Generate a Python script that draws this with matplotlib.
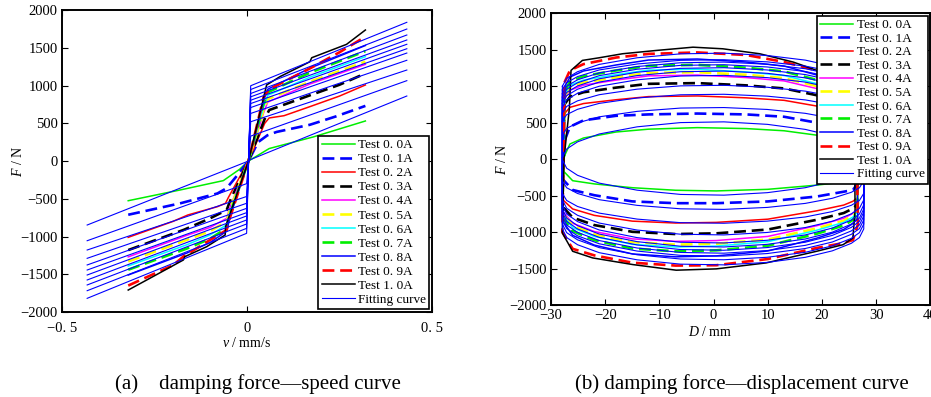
import numpy as np
from matplotlib import pyplot as plt

plt.rcParams['font.family'] = 'serif'
plt.rcParams['font.serif'] = ['Liberation Serif', 'DejaVu Serif']
plt.rcParams['mathtext.fontset'] = 'custom'
plt.rcParams['mathtext.it'] = 'Liberation Serif:italic'
plt.rcParams['mathtext.rm'] = 'Liberation Serif'

#--------------------------------
# DATA
#--------------------------------
currents = ['0. 0', '0. 1', '0. 2', '0. 3', '0. 4', '0. 5', '0. 6', '0. 7', '0. 8', '0. 9', '1. 0']
colors = ['#00ee00', '#0000ff', '#ff0000', '#000000', '#ff00ff', '#ffff00',
          '#00ffff', '#00ee00', '#0000ff', '#ff0000', '#000000']
dashed = [False, True, False, True, False, True, False, True, False, True, False]

# (a) force - speed, test curves (v in mm/s, F in N)
speed_v = [
    [-0.321, -0.181, -0.064, -0.02, 0.004, 0.06, 0.18, 0.32],
    [-0.321, -0.18, -0.08, -0.055, -0.028, 0.004, 0.03, 0.055, 0.08, 0.17, 0.24, 0.32],
    [-0.321, -0.2, -0.16, -0.08, -0.058, -0.05, 0.004, 0.048, 0.06, 0.1, 0.17, 0.25, 0.32],
    [-0.321, -0.17, -0.1, -0.055, -0.045, 0.004, 0.048, 0.06, 0.17, 0.25, 0.32],
    [-0.321, -0.163, -0.1, -0.055, -0.045, 0.004, 0.045, 0.056, 0.17, 0.32],
    [-0.321, -0.163, -0.1, -0.055, -0.045, 0.004, 0.045, 0.056, 0.17, 0.32],
    [-0.321, -0.163, -0.1, -0.055, -0.045, 0.004, 0.045, 0.056, 0.17, 0.32],
    [-0.321, -0.163, -0.1, -0.055, -0.045, 0.004, 0.045, 0.056, 0.17, 0.32],
    [-0.321, -0.163, -0.1, -0.055, -0.045, 0.004, 0.045, 0.056, 0.17, 0.32],
    [-0.321, -0.2, -0.172, -0.1, -0.055, -0.048, 0.004, 0.045, 0.06, 0.17, 0.25, 0.32],
    [-0.321, -0.25, -0.172, -0.168, -0.109, -0.059, -0.058, 0.004, 0.053, 0.089, 0.17, 0.175, 0.269, 0.32],
]
speed_F = [
    [-526, -384, -260, -110, 0, 165, 320, 530],
    [-712, -560, -430, -360, -200, 0, 250, 340, 385, 480, 590, 730],
    [-1011, -800, -715, -605, -560, -480, 0, 500, 570, 600, 720, 860, 1007],
    [-1180, -910, -760, -650, -520, 0, 560, 675, 870, 1010, 1160],
    [-1270, -985, -880, -760, -600, 0, 640, 780, 1020, 1280],
    [-1330, -1045, -930, -800, -630, 0, 680, 820, 1050, 1315],
    [-1390, -1110, -980, -845, -660, 0, 720, 870, 1110, 1382],
    [-1440, -1160, -1030, -890, -690, 0, 760, 910, 1170, 1455],
    [-1510, -1220, -1080, -930, -720, 0, 800, 950, 1230, 1530],
    [-1650, -1380, -1267, -1046, -914, -780, 0, 850, 950, 1226, 1440, 1647],
    [-1709, -1520, -1311, -1267, -1135, -980, -870, 0, 1007, 1117, 1315, 1368, 1545, 1735],
]

# (a) fitting curves: end values at v = -0.432 / +0.432 and values next to v = 0
fit_v = [-0.432, -0.001, 0.01, 0.432]
fit_end_neg = [-848, -1056, -1179, -1289, -1377, -1444, -1510, -1576, -1642, -1718, -1819]
fit_start_neg = [-10, -300, -470, -560, -627, -684, -728, -781, -834, -892, -958]
fit_start_pos = [20, 330, 520, 630, 708, 761, 805, 850, 894, 947, 997]
fit_end_pos = [861, 1064, 1205, 1334, 1430, 1487, 1546, 1603, 1669, 1748, 1837]

# (b) force - displacement, test loops (D in mm)
loop_up_D = [-27.5, -26.5, -24, -18, -12, -3, 6, 13, 19, 23.5, 26.3]
loop_lo_D = [26.6, 25.7, 24, 19, 10, 0.5, -7, -15, -22, -26, -27.9]
loop_up_F = [
    [43, 206, 288, 370, 409, 430, 417, 387, 327, 275, 241],
    [249, 442, 530, 592, 611, 623, 611, 579, 498, 436, 386],
    [622, 708, 760, 812, 855, 864, 838, 804, 726, 648, 588],
    [749, 853, 915, 978, 1030, 1040, 1009, 967, 874, 780, 707],
    [828, 943, 1012, 1081, 1139, 1150, 1116, 1070, 966, 863, 782],
    [857, 976, 1047, 1119, 1178, 1190, 1154, 1107, 1000, 893, 809],
    [886, 1009, 1082, 1156, 1218, 1230, 1193, 1144, 1033, 923, 836],
    [929, 1058, 1135, 1213, 1277, 1290, 1251, 1200, 1084, 968, 877],
    [986, 1123, 1206, 1288, 1356, 1370, 1329, 1274, 1151, 1028, 932],
    [1050, 1214, 1300, 1390, 1440, 1460, 1425, 1330, 1214, 1120, 1060],
]
loop_lo_F = [
    [-271, -297, -315, -358, -415, -437, -428, -393, -341, -297, -149],
    [-333, -424, -448, -514, -581, -605, -605, -581, -496, -424, -272],
    [-526, -579, -631, -710, -824, -868, -877, -851, -772, -684, -553],
    [-617, -678, -740, -833, -966, -1018, -1028, -997, -905, -802, -648],
    [-677, -744, -812, -914, -1060, -1117, -1128, -1094, -993, -880, -711],
    [-704, -774, -845, -950, -1103, -1161, -1173, -1138, -1032, -915, -739],
    [-723, -795, -868, -976, -1133, -1193, -1205, -1169, -1060, -940, -759],
    [-758, -834, -910, -1024, -1188, -1251, -1264, -1226, -1112, -986, -796],
    [-804, -884, -965, -1085, -1260, -1327, -1340, -1300, -1179, -1045, -844],
    [-900, -1110, -1150, -1219, -1370, -1455, -1460, -1420, -1320, -1230, -1000],
]
# the 1.0 A loop has its own stations
loop10_up_D = [-27.8, -27.6, -26.6, -26.3, -24.2, -21.1, -16.8, -10.6, -3.8, 1.7, 8.5, 14.7, 19.9, 23.5, 25.9]
loop10_up_F = [-700, 0, 700, 1214, 1351, 1387, 1442, 1487, 1532, 1510, 1442, 1328, 1191, 1100, 1020]
loop10_lo_D = [26.1, 25.7, 23.9, 19, 9.7, 0.5, -6.9, -14.9, -22.3, -26, -27.9]
loop10_lo_F = [-700, -1082, -1173, -1264, -1423, -1505, -1523, -1446, -1355, -1264, -1014]

# (b) fitting loops
fit_loop_D = [-27.9, -27.1, -25.1, -21.1, -14.1, -6.1, 1.9, 9.9, 16.9, 21.9, 25.4, 26.9, 27.7]
fit_loop_up = [
    [20, 137, 235, 343, 441, 499, 509, 475, 406, 318, 216, 137, 20],
    [330, 420, 495, 578, 653, 698, 705, 679, 626, 559, 480, 420, 330],
    [520, 608, 681, 762, 836, 880, 887, 861, 810, 744, 667, 608, 520],
    [630, 721, 797, 881, 957, 1002, 1010, 983, 930, 862, 782, 721, 630],
    [708, 813, 901, 997, 1085, 1137, 1146, 1115, 1054, 975, 883, 813, 708],
    [761, 868, 956, 1054, 1143, 1196, 1205, 1174, 1112, 1032, 939, 868, 761],
    [805, 912, 1001, 1099, 1189, 1242, 1251, 1220, 1157, 1077, 983, 912, 805],
    [850, 956, 1044, 1142, 1230, 1283, 1292, 1261, 1199, 1120, 1027, 956, 850],
    [894, 998, 1085, 1180, 1267, 1319, 1328, 1298, 1237, 1159, 1068, 998, 894],
    [947, 1046, 1129, 1220, 1302, 1352, 1360, 1331, 1273, 1199, 1112, 1046, 947],
    [997, 1106, 1196, 1296, 1387, 1441, 1450, 1418, 1355, 1273, 1178, 1106, 997],
]
fit_loop_lo = [
    [-10, -126, -223, -330, -427, -485, -495, -461, -393, -306, -204, -126, -10],
    [-300, -394, -472, -557, -635, -682, -690, -663, -608, -538, -456, -394, -300],
    [-470, -568, -650, -741, -823, -872, -880, -851, -794, -720, -634, -568, -470],
    [-560, -675, -771, -877, -973, -1030, -1040, -1006, -939, -853, -752, -675, -560],
    [-627, -753, -857, -972, -1077, -1140, -1150, -1113, -1040, -946, -836, -753, -627],
    [-684, -809, -913, -1028, -1132, -1195, -1205, -1169, -1096, -1002, -892, -809, -684],
    [-728, -853, -958, -1073, -1177, -1240, -1250, -1213, -1140, -1046, -937, -853, -728],
    [-781, -903, -1005, -1117, -1219, -1280, -1290, -1254, -1183, -1091, -985, -903, -781],
    [-834, -953, -1052, -1161, -1261, -1320, -1330, -1295, -1226, -1137, -1032, -953, -834],
    [-892, -1009, -1107, -1214, -1312, -1370, -1380, -1346, -1278, -1190, -1087, -1009, -892],
    [-958, -1076, -1174, -1283, -1381, -1440, -1450, -1416, -1347, -1258, -1155, -1076, -958],
]

#--------------------------------
# PLOT
#--------------------------------
fit_color = '#0000ff'
fit_lw = 0.8


def test_style(i):
    if dashed[i]:
        return dict(color=colors[i], lw=1.9, linestyle=(0, (4.5, 2.2)))
    return dict(color=colors[i], lw=1.1, linestyle='-')


def style_axes(ax):
    ax.tick_params(direction='in', top=True, right=True, length=4, width=0.8,
                   labelsize=10.5, pad=3)
    for s in ax.spines.values():
        s.set_linewidth(1.4)
    ax.set_ylim(-2000, 2000)
    ax.set_yticks(np.arange(-2000, 2001, 500))


fig = plt.figure(figsize=(9.31, 3.97), dpi=100)

# (a)
ax1 = fig.add_axes([0.0666, 0.2141, 0.3974, 0.7607])
handles = []
for i in range(len(currents)):
    ln, = ax1.plot(speed_v[i], speed_F[i], **test_style(i))
    handles.append(ln)
for i in range(len(currents)):
    fl, = ax1.plot(fit_v, [fit_end_neg[i], fit_start_neg[i], fit_start_pos[i], fit_end_pos[i]],
                   color=fit_color, lw=fit_lw)
handles.append(fl)
ax1.set_xlim(-0.5, 0.5)
ax1.set_xticks([-0.5, 0, 0.5])
ax1.set_xticklabels(['\u22120. 5', '0', '0. 5'])
style_axes(ax1)
ax1.tick_params(axis='x', pad=7)

labels = ['Test ' + c + 'A' for c in currents] + ['Fitting curve']
leg_kw = dict(fontsize=9.5, frameon=True, fancybox=False, edgecolor='black', framealpha=1,
              labelspacing=0.14, handlelength=2.5, handletextpad=0.25, borderpad=0.25,
              borderaxespad=0.2)
lg1 = ax1.legend(handles, labels, loc='lower right', **leg_kw)
lg1.get_frame().set_linewidth(1.2)

# (b)
ax2 = fig.add_axes([0.5918, 0.2317, 0.4076, 0.7355])
handles2 = []
for i in range(len(currents)):
    if i < 10:
        dd = loop_up_D + loop_lo_D + loop_up_D[:1]
        ff = loop_up_F[i] + loop_lo_F[i] + loop_up_F[i][:1]
    else:
        dd = loop10_up_D + loop10_lo_D + loop10_up_D[:1]
        ff = loop10_up_F + loop10_lo_F + loop10_up_F[:1]
    ln, = ax2.plot(dd, ff, **test_style(i))
    handles2.append(ln)
for i in range(len(currents)):
    dd = fit_loop_D + fit_loop_D[::-1] + fit_loop_D[:1]
    ff = fit_loop_up[i] + fit_loop_lo[i][::-1] + fit_loop_up[i][:1]
    fl, = ax2.plot(dd, ff, color=fit_color, lw=fit_lw)
handles2.append(fl)
ax2.set_xlim(-30, 40)
ax2.set_xticks(np.arange(-30, 41, 10))
style_axes(ax2)
lg2 = ax2.legend(handles2, labels, loc='upper right', **dict(leg_kw, labelspacing=0.1))
lg2.get_frame().set_linewidth(1.2)

# axis labels and captions
fig.text(18 / 931, 1 - 161 / 397, '$F$ / N', rotation=90, ha='center', va='center', fontsize=10)
fig.text(247 / 931, 1 - 343 / 397, '$v$ / mm/s', ha='center', va='center', fontsize=10)
fig.text(502 / 931, 1 - 159 / 397, '$F$ / N', rotation=90, ha='center', va='center', fontsize=10)
fig.text(710 / 931, 1 - 332 / 397, '$D$ / mm', ha='center', va='center', fontsize=10)
fig.text(258 / 931, 1 - 384 / 397, '(a)    damping force\u2014speed curve', ha='center', va='center', fontsize=15)
fig.text(742 / 931, 1 - 384 / 397, '(b) damping force\u2014displacement curve', ha='center', va='center', fontsize=15)

plt.savefig('out.png', dpi=100)
